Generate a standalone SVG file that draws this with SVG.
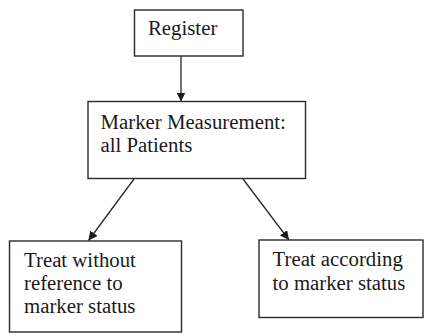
<svg xmlns="http://www.w3.org/2000/svg" width="425" height="334" viewBox="0 0 425 334">
<style>
.box{fill:#fff;stroke:#2a2a2a;stroke-width:1.4}
.t{font-family:'Liberation Serif','Times New Roman',serif;font-size:20.8px;fill:#1a1a1a}
.c{stroke:#2a2a2a;stroke-width:1.3;fill:none}
</style>
<defs>
<marker id="ah" viewBox="0 0 10 10" refX="10" refY="5" markerWidth="9" markerHeight="9" markerUnits="userSpaceOnUse" orient="auto">
<path d="M0,0 L10,5 L0,10 z" fill="#1a1a1a"/>
</marker>
</defs>
<rect width="425" height="334" fill="#fff"/>
<g id="connectors">
<line class="c" x1="181" y1="56" x2="181" y2="101.5" marker-end="url(#ah)"/>
<line class="c" x1="134" y1="179" x2="88.5" y2="240.5" marker-end="url(#ah)"/>
<line class="c" x1="243" y1="179" x2="289" y2="240" marker-end="url(#ah)"/>
</g>
<g id="register">
<rect class="box" x="134.5" y="10" width="108.5" height="46"/>
<text class="t" x="148" y="35">Register</text>
</g>
<g id="marker">
<rect class="box" x="88" y="101.5" width="217.5" height="77"/>
<text class="t" x="100.5" y="128.5">Marker Measurement:</text>
<text class="t" x="100.5" y="152">all Patients</text>
</g>
<g id="treat-without">
<rect class="box" x="9.5" y="241" width="172" height="91"/>
<text class="t" x="24" y="266.5">Treat without</text>
<text class="t" x="24" y="290">reference to</text>
<text class="t" x="24" y="313">marker status</text>
</g>
<g id="treat-according">
<rect class="box" x="259" y="240" width="164" height="77.5"/>
<text class="t" x="272.5" y="265.5">Treat according</text>
<text class="t" x="272.5" y="289.5">to marker status</text>
</g>
</svg>
